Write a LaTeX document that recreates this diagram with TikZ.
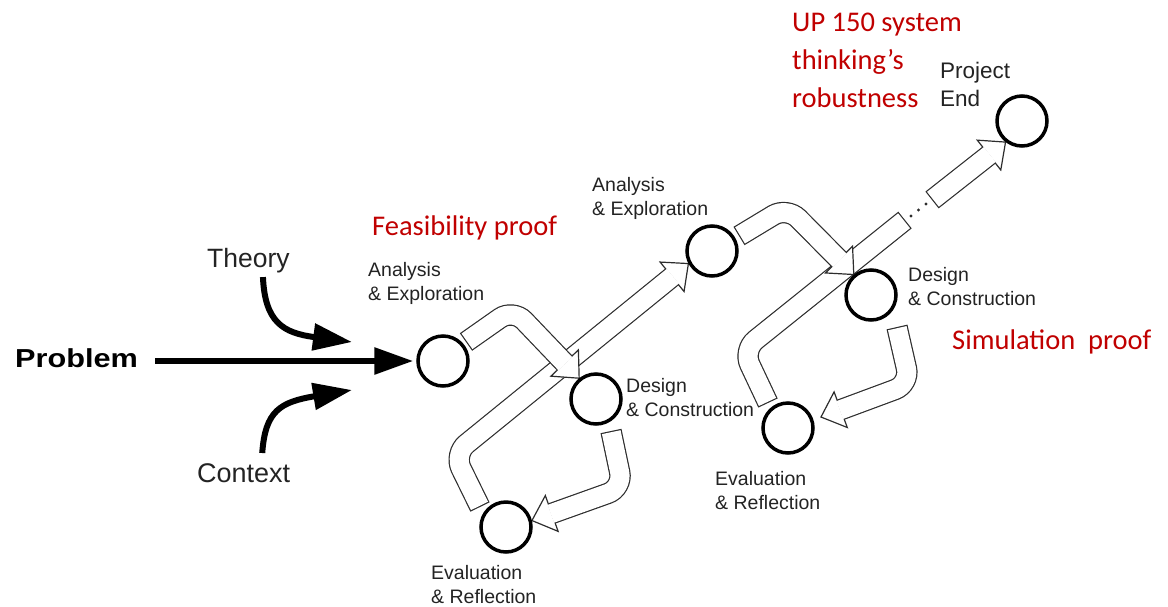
\documentclass[tikz,border=0pt]{standalone}
\usepackage{fontspec}
\setmainfont{Liberation Sans}
\newfontfamily\redfont{Carlito}
\usetikzlibrary{arrows.meta,calc}
\definecolor{redtxt}{RGB}{192,0,0}
\definecolor{outl}{RGB}{45,45,45}
\definecolor{lbl}{RGB}{35,35,35}
\pgfdeclarelayer{bg}
\pgfsetlayers{bg,main}
\tikzset{
  ring/.style={circle, draw=black, line width=3.5pt, minimum size=50pt, inner sep=0pt, fill=white},
  lab/.style={anchor=north west, inner sep=0pt, align=left, text=lbl, font=\fontsize{19.5}{24}\selectfont},
  redlab/.style={inner sep=0pt, align=left, text=redtxt, font=\redfont\fontsize{28.5}{38}\selectfont},
  blkarrow/.style={line width=6pt, draw=black, -{Triangle[length=39pt,width=26pt]}},
  shaftout/.style={line width=21.4pt, draw=outl, rounded corners=16pt},
  shaftin/.style={line width=19pt, draw=white, rounded corners=16pt},
}
\newcommand{\harrow}[4]{%
  \coordinate (#4b) at ($(#3)!21pt!(#2)$);
  \draw[shaftout] (#1) -- (#2) -- (#4b);
  \draw[fill=white, draw=outl, line width=1.2pt, line join=miter]
    (#3) -- ($(#4b)!19pt!90:(#3)$) -- ($(#4b)!19pt!-90:(#3)$) -- cycle;
  \draw[shaftin, shorten <=1.2pt, shorten >=-1pt] (#1) -- (#2) -- (#4b);
}
\begin{document}
\begin{tikzpicture}[x=1pt,y=-1pt]
\useasboundingbox (0,0) rectangle (1168,606);

% circles
\node[ring] (A1) at (443,361) {};
\node[ring] (D1) at (596,399) {};
\node[ring] (E1) at (506,527) {};
\node[ring] (A2) at (712,251) {};
\node[ring] (D2) at (871,295) {};
\node[ring] (E2) at (788,428) {};
\node[ring] (End) at (1022,121) {};

% labels
\node[anchor=base west, inner sep=0pt, xscale=1.18, font=\bfseries\fontsize{26}{30}\selectfont] (Problem) at (15,367) {Problem};
\node[lab, font=\fontsize{26.5}{30}\selectfont] (Theory) at (207,248) {Theory};
\node[lab, font=\fontsize{27}{30}\selectfont] (Context) at (197,463) {Context};
\node[lab] (lA1) at (368,262) {Analysis\\\& Exploration};
\node[lab] (lD1) at (626,378) {Design\\\& Construction};
\node[lab] (lE1) at (431,565) {Evaluation\\\& Reflection};
\node[lab] (lA2) at (592,177) {Analysis\\\& Exploration};
\node[lab] (lD2) at (908,267) {Design\\\& Construction};
\node[lab] (lE2) at (715,471) {Evaluation\\\& Reflection};
\node[lab, font=\fontsize{22.5}{28}\selectfont] (lEnd) at (940,62) {Project\\End};
\node[redlab, anchor=base west] (feas) at (372,235) {Feasibility proof};
\node[redlab, anchor=north west] (up) at (792,13) {UP 150 system\\thinking’s\\robustness};
\node[redlab, anchor=base west] (sim) at (952,349) {Simulation~~proof};

% input arrows
\coordinate (thtip) at (352,342);
\coordinate (cttip) at (352,390);
\draw[blkarrow, shorten <=17pt, shorten >=3pt] (Problem.east |- A1.west) -- (A1.west);
\draw[blkarrow] ([xshift=14.5pt,yshift=-4pt]Theory.south) .. controls +(2,45) and (283,333) .. (thtip);
\draw[blkarrow] ([xshift=18.5pt,yshift=10pt]Context.north) .. controls +(3,-42) and (280,402) .. (cttip);

% hollow arrows
\coordinate (s1) at (466,342); \coordinate (c1) at (513,309);
\coordinate (s2) at (611,431); \coordinate (c2) at (623,488);
\coordinate (s3) at (480,507); \coordinate (c3) at (454,454);
\coordinate (s4) at (739,236); \coordinate (c4) at (787,207);
\coordinate (s5) at (897,327); \coordinate (c5) at (910,384); \coordinate (t5) at (821,417);
\coordinate (s6) at (768,403); \coordinate (c6) at (743,350); \coordinate (e6) at (905,220);
\coordinate (s7) at (932,200);
\begin{pgfonlayer}{bg}
\harrow{s3}{c3}{A2.208}{a3}
\harrow{s1}{c1}{D1.129}{a1}
\harrow{s2}{c2}{E1.14}{a2}
\draw[shaftout] (s6) -- (c6) -- (e6);
\draw[shaftin, shorten <=1.2pt, shorten >=1.2pt] (s6) -- (c6) -- (e6);
\harrow{s4}{c4}{D2.130}{a4}
\harrow{s5}{c5}{t5}{a5}
\coordinate (c7) at ($(s7)!0.5!(End.232)$);
\harrow{s7}{c7}{End.232}{a7}
\end{pgfonlayer}
\fill[outl] (911,216) circle (1.7pt) (918.5,210) circle (1.7pt) (926,204) circle (1.7pt);
\end{tikzpicture}
\end{document}
